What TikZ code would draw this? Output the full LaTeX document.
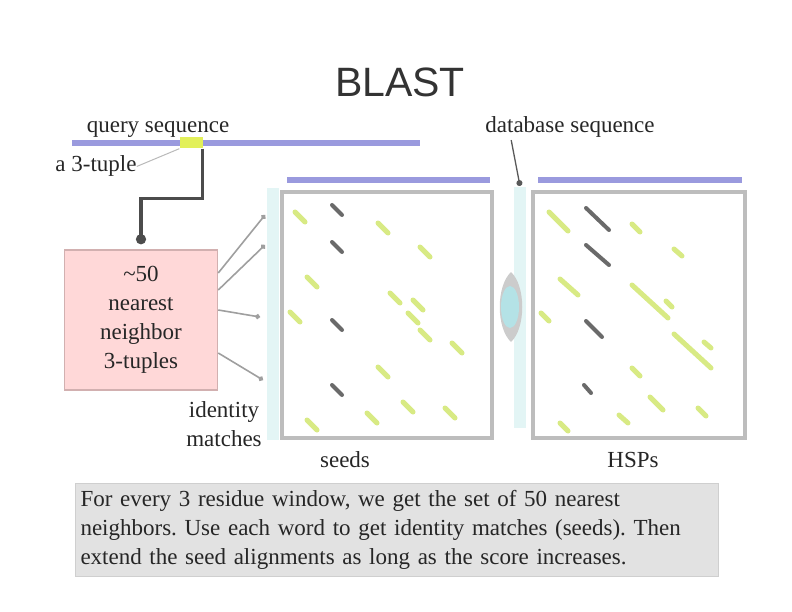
\documentclass[tikz,border=0pt]{standalone}
\usepackage{fontspec}
\setmainfont{Liberation Serif}
\newfontfamily\titlefont{Liberation Sans}
\usepackage{xcolor}
\usepackage{tikz}
\usetikzlibrary{arrows.meta,positioning,calc}
\definecolor{seqblue}{HTML}{9A9ADE}
\definecolor{tupleyellow}{HTML}{E2F05A}
\definecolor{seedyellow}{HTML}{D8EA84}
\definecolor{markgray}{HTML}{6A6A6A}
\definecolor{framegray}{HTML}{BDBDBD}
\definecolor{stripcyan}{HTML}{E3F5F5}
\definecolor{boxpink}{HTML}{FFD8D8}
\definecolor{boxedge}{HTML}{D2B0B0}
\definecolor{notefill}{HTML}{E2E2E2}
\definecolor{noteedge}{HTML}{CFCFCF}
\definecolor{lensfill}{HTML}{B4E2E6}
\frenchspacing

\begin{document}
\begin{tikzpicture}[x=1bp,y=-1bp,
    lbl/.style={font=\fontsize{23bp}{29bp}\selectfont,text=black!85,inner sep=0pt},
    seqbar/.style={seqblue,line width=6bp},
    panel/.style={draw=framegray,line width=3.5bp,fill=white},
    seedmark/.style={seedyellow,line width=5bp,line cap=round},
    hitmark/.style={markgray,line width=4bp,line cap=round},
    matcharrow/.style={draw=gray!75,line width=1.6bp,-{Circle[length=5bp]}}]
    \useasboundingbox (0,0) rectangle (792,612);

    \node[font=\titlefont\fontsize{41bp}{48bp}\selectfont,text=black!80,anchor=base] (title) at (400,97) {BLAST};

    % query sequence and its 3-tuple
    \draw[seqbar] (72,143) -- (420,143);
    \node[fill=tupleyellow,minimum width=23bp,minimum height=11bp,inner sep=0pt] (tuple) at (191,143) {};
    \node[lbl,anchor=base] (qlabel) at (158,133) {query sequence};
    \node[lbl,anchor=base] (tlabel) at (96,172) {a 3-tuple};
    \draw[gray!55,line width=1bp] (tlabel.east) -- (tuple.south west);

    \node[lbl,draw=boxedge,fill=boxpink,line width=1.5bp,minimum width=153bp,minimum height=140bp,align=center] (box) at (141,320) {\textasciitilde50\\nearest\\neighbor\\3-tuples};
    \draw[black!70,line width=3.5bp,-{Circle[length=10bp]},shorten >=5bp] (tuple.south east) -- ++(0,50) -| (box.north);

    % database strips and panels
    \fill[stripcyan] (267,188) rectangle (279,440);
    \fill[stripcyan] (514,187) rectangle (526,428);
    \draw[panel] (282,192) rectangle (492,438);
    \draw[panel] (533,192) rectangle (745,438);
    \draw[seqbar] (287,180) -- (490,180);
    \draw[seqbar] (538,180) -- (742,180);

    \foreach \x/\y in {300/217,383/228,425/252,312/282,395/298,418/305,413/318,425/335,457/348,295/317,383/372,408/407,372/418,450/413,312/425}
      \draw[seedmark] (\x-5,\y-5) -- (\x+5,\y+5);
    \foreach \y in {210,247,325,390}
      \draw[hitmark] (332,\y-5) -- (342,\y+5);

    \foreach \a/\b/\c/\d in {549/212/568/231,632/224/640/232,674/249/682/256,560/279/578/295,541/313/549/321,632/285/668/318,666/301/672/307,674/334/711/368,704/342/711/348,632/368/640/376,650/397/663/410,698/408/706/416,619/415/628/423,560/423/568/431}
      \draw[seedmark] (\a,\b) -- (\c,\d);
    \foreach \a/\b/\c/\d in {586/208/609/230,586/245/609/265,586/321/602/337,584/385/591/393}
      \draw[hitmark] (\a,\b) -- (\c,\d);

    % lens between the panels
    \fill[gray!40] (511,272) .. controls (496,286) and (496,328) .. (511,342) .. controls (526,328) and (526,286) .. (511,272);
    \fill[lensfill] (510,307) ellipse [x radius=9, y radius=21];

    % identity matches
    \coordinate (m1) at (265,215);
    \coordinate (m2) at (265,245);
    \coordinate (m3) at (260,317);
    \coordinate (m4) at (263,380);
    \draw[matcharrow] ([yshift=47bp]box.east) -- (m1);
    \draw[matcharrow] ([yshift=30bp]box.east) -- (m2);
    \draw[matcharrow] ([yshift=10bp]box.east) -- (m3);
    \draw[matcharrow] ([yshift=-33bp]box.east) -- (m4);
    \node[lbl,align=center] (mlabel) at (224,424) {identity\\matches};

    \node[lbl,anchor=base] (dblabel) at (570,133) {database sequence};
    \coordinate (dbhit) at (520,186);
    \draw[black!65,line width=1.3bp,-{Circle[length=6bp]}] ([xshift=26bp,yshift=-2bp]dblabel.south west) -- (dbhit);

    \node[lbl,anchor=base] (seedlabel) at (345,467) {seeds};
    \node[lbl,anchor=base] (hsplabel) at (633,467) {HSPs};

    \node[lbl,draw=noteedge,fill=notefill,line width=1bp,anchor=north west,text width=633bp,inner xsep=5bp,minimum height=93bp,align=left] (note) at (75,483)
      {For every 3 residue window, we get the set of 50 nearest\\neighbors. Use each word to get identity matches (seeds). Then\\extend the seed alignments as long as the score increases.};
  \end{tikzpicture}
\end{document}
